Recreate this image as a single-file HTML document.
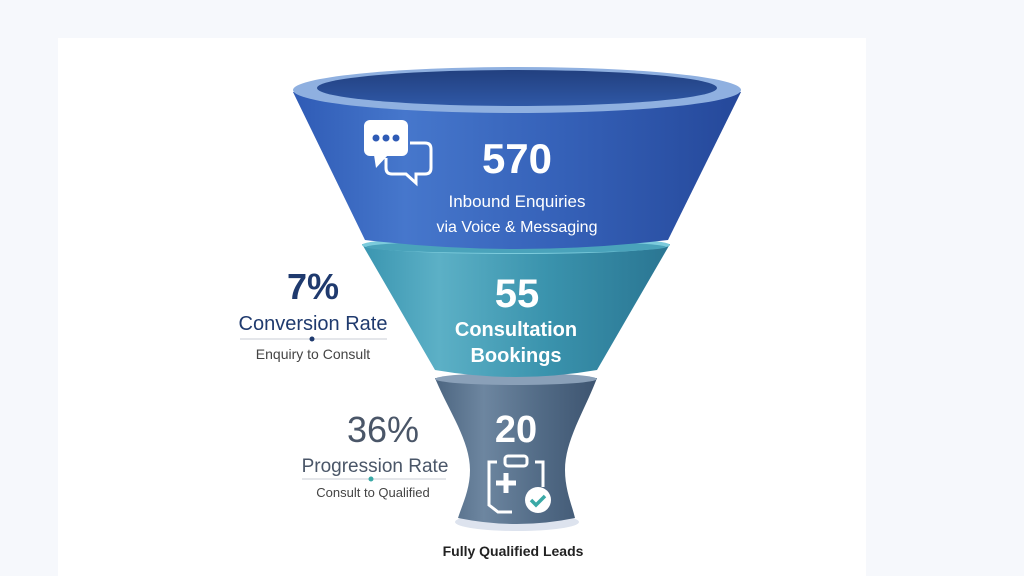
<!DOCTYPE html>
<html><head><meta charset="utf-8"><style>
html,body{margin:0;padding:0;background:#f6f8fc;width:1024px;height:576px;overflow:hidden}
</style></head><body>
<svg width="1024" height="576" viewBox="0 0 1024 576" xmlns="http://www.w3.org/2000/svg" font-family="Liberation Sans, sans-serif">
<defs>
<linearGradient id="g1" x1="0" x2="1" y1="0" y2="0">
<stop offset="0" stop-color="#2f5bb5"/><stop offset="0.25" stop-color="#4677cc"/><stop offset="0.6" stop-color="#3561b8"/><stop offset="1" stop-color="#25489a"/></linearGradient>
<linearGradient id="g2" x1="0" x2="1" y1="0" y2="0">
<stop offset="0" stop-color="#3a95b0"/><stop offset="0.25" stop-color="#5cb0c6"/><stop offset="0.6" stop-color="#3a93ad"/><stop offset="1" stop-color="#2a7592"/></linearGradient>
<linearGradient id="g3" x1="0" x2="1" y1="0" y2="0">
<stop offset="0" stop-color="#4c6580"/><stop offset="0.3" stop-color="#6d86a0"/><stop offset="0.65" stop-color="#526b86"/><stop offset="1" stop-color="#3d5470"/></linearGradient>
<linearGradient id="gi" x1="0" x2="0" y1="0" y2="1">
<stop offset="0" stop-color="#22407f"/><stop offset="1" stop-color="#2f58a6"/></linearGradient>
</defs>
<rect x="58" y="38" width="808" height="538" fill="#ffffff"/>
<ellipse cx="517" cy="522" rx="62" ry="9" fill="#dde3ee"/>
<path d="M435 378 L597 378 C585 410 565 440 565 470 C565 490 572 505 575 518 Q517 530 458 518 C462 505 470 490 470 470 C470 440 448 410 435 378 Z" fill="url(#g3)"/>
<ellipse cx="516" cy="379" rx="81" ry="6" fill="#8aa0b8"/>
<path d="M362 244 L670 244 L597 370 Q516 384 435 370 Z" fill="url(#g2)"/>
<ellipse cx="516" cy="245" rx="154" ry="9" fill="#7ccbdc"/>
<ellipse cx="516" cy="247" rx="150" ry="6" fill="#4aa3bb"/>
<path d="M293 92 L741 92 L668 240 Q516 258 365 240 Z" fill="url(#g1)"/>
<ellipse cx="517" cy="90" rx="224" ry="23" fill="#8fb0e0"/>
<ellipse cx="517" cy="88" rx="200" ry="18" fill="url(#gi)"/>
<rect x="364" y="120" width="44" height="36" rx="6" fill="#fff"/>
<path d="M374 155 L376 168 L388 155 Z" fill="#fff"/>
<circle cx="376" cy="138" r="3.5" fill="#2f5bb5"/><circle cx="386" cy="138" r="3.5" fill="#2f5bb5"/><circle cx="396" cy="138" r="3.5" fill="#2f5bb5"/>
<path d="M410 143 L425 143 Q431 143 431 149 L431 168 Q431 174 425 174 L416 174 L416 183 L406 174 L392 174 Q386 174 386 168 L386 158" fill="none" stroke="#fff" stroke-width="3"/>
<g fill="#fff" text-anchor="middle">
<text x="517" y="173" font-size="42" font-weight="bold">570</text>
<text x="517" y="207" font-size="17">Inbound Enquiries</text>
<text x="517" y="232" font-size="16">via Voice &amp; Messaging</text>
<text x="517" y="307" font-size="40" font-weight="bold">55</text>
<text x="516" y="336" font-size="20" font-weight="bold">Consultation</text>
<text x="516" y="362" font-size="20" font-weight="bold">Bookings</text>
<text x="516" y="442" font-size="38" font-weight="bold">20</text>
</g>
<path d="M497 462 L489 462 L489 505 L498 512 L512 512" fill="none" stroke="#fff" stroke-width="3"/>
<path d="M535 462 L543 462 L543 487" fill="none" stroke="#fff" stroke-width="3"/>
<rect x="505" y="456" width="22" height="10" rx="3" fill="none" stroke="#fff" stroke-width="3"/>
<path d="M496 483 h20 M506 473 v20" stroke="#fff" stroke-width="5"/>
<circle cx="538" cy="500" r="13" fill="#fff"/>
<path d="M531 500 l5 5 l9 -9" fill="none" stroke="#3aa9a6" stroke-width="3.5"/>
<g text-anchor="middle">
<text x="313" y="299" font-size="36" font-weight="bold" fill="#1f3a6e">7%</text>
<text x="313" y="330" font-size="20" fill="#1f3a6e">Conversion Rate</text>
<text x="313" y="359" font-size="14" fill="#444">Enquiry to Consult</text>
<text x="383" y="442" font-size="36" fill="#4a5668">36%</text>
<text x="375" y="472" font-size="19" fill="#4a5668">Progression Rate</text>
<text x="373" y="497" font-size="13" fill="#444">Consult to Qualified</text>
<text x="513" y="556" font-size="14" font-weight="bold" fill="#222">Fully Qualified Leads</text>
</g>
<line x1="240" y1="339" x2="387" y2="339" stroke="#c8cdd6" stroke-width="1"/>
<circle cx="312" cy="339" r="2.5" fill="#1f3a6e"/>
<line x1="302" y1="479" x2="446" y2="479" stroke="#c8cdd6" stroke-width="1"/>
<circle cx="371" cy="479" r="2.5" fill="#3aa9a6"/>
</svg>
</body></html>
